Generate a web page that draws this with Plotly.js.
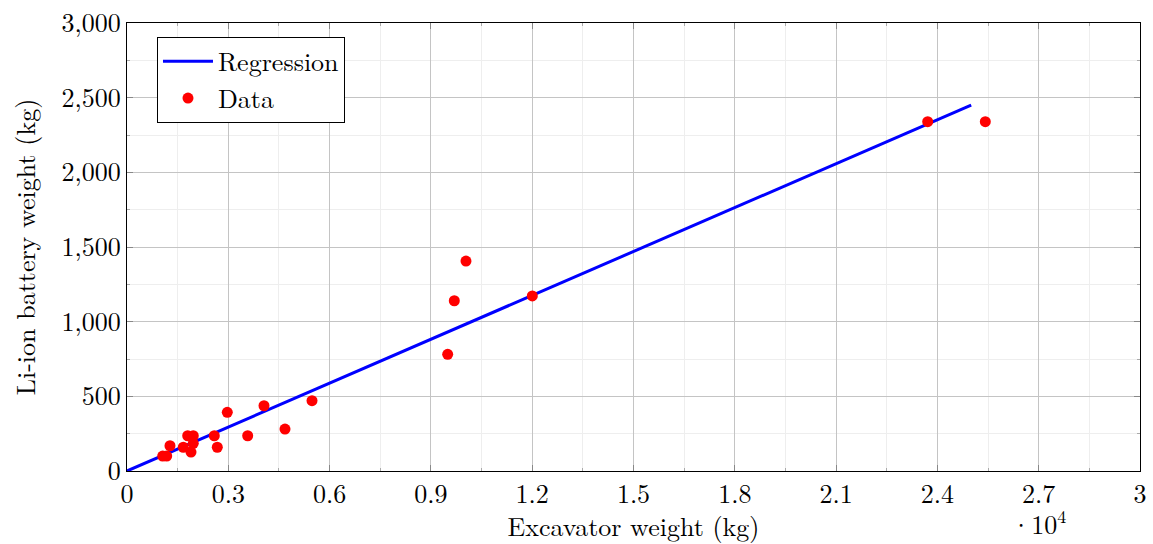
<!DOCTYPE html>
<html>
<head>
<meta charset="utf-8">
<script src="https://cdn.plot.ly/plotly-3.0.1.min.js"></script>
<style>html,body{margin:0;padding:0;background:#fff;}#chart{width:1153px;height:544px;}</style>
</head>
<body>
<div id="chart"></div>
<script>
// Data (kg)
const excavatorWeight = [1057, 1176, 1273, 1667, 1798, 1963, 1963, 1895, 2585, 2674, 2970, 3574, 4057, 4679, 5479, 9497, 9693, 10039, 12003, 23712, 25419];
const batteryWeight   = [100, 100, 169, 159, 236, 236, 185, 127, 236, 159, 393, 236, 437, 281, 471, 781, 1140, 1406, 1172, 2339, 2339];
const regressionX = [0, 25000];
const regressionY = [0, 2450];
const xTickVals = [0, 3000, 6000, 9000, 12000, 15000, 18000, 21000, 24000, 27000, 30000];
const xTickText = ["0", "0.3", "0.6", "0.9", "1.2", "1.5", "1.8", "2.1", "2.4", "2.7", "3"];
const yTickVals = [0, 500, 1000, 1500, 2000, 2500, 3000];

const font = "Latin Modern Roman, CMU Serif, Liberation Serif, DejaVu Serif, serif";
const fs = 26;

const traces = [
  {x: regressionX, y: regressionY, type: "scatter", mode: "lines", name: "Regression",
   line: {color: "#0000ff", width: 3}},
  {x: excavatorWeight, y: batteryWeight, type: "scatter", mode: "markers", name: "Data",
   marker: {color: "#ff0000", size: 11}}
];

const axisCommon = {
  showline: true, linecolor: "#000", linewidth: 1, mirror: "allticks",
  ticks: "inside", ticklen: 6, tickcolor: "#888", tickwidth: 1,
  showgrid: true, gridcolor: "#c4c4c4", gridwidth: 1, zeroline: false,
  tickfont: {family: font, size: fs, color: "#000"},
  layer: "below traces"
};

const layout = {
  width: 1153, height: 544,
  margin: {l: 127, r: 13, t: 23, b: 73},
  paper_bgcolor: "#fff", plot_bgcolor: "#fff",
  font: {family: font, color: "#000"},
  showlegend: true,
  legend: {x: 0.0296, y: 0.969, xanchor: "left", yanchor: "top",
           bordercolor: "#000", borderwidth: 1, bgcolor: "#fff", itemwidth: 50,
           font: {family: font, size: fs, color: "#000"}},
  xaxis: Object.assign({}, axisCommon, {
    range: [0, 30000], tickmode: "array", tickvals: xTickVals, ticktext: xTickText,
    minor: {dtick: 1500, tick0: 0, showgrid: true, gridcolor: "#eeeeee", ticks: "inside", ticklen: 3, tickcolor: "#aaa"},
    title: {text: "Excavator weight (kg)", font: {family: font, size: fs}, standoff: 8}
  }),
  yaxis: Object.assign({}, axisCommon, {
    range: [0, 3000], tickmode: "array", tickvals: yTickVals, tickformat: ",",
    minor: {dtick: 250, tick0: 0, showgrid: true, gridcolor: "#eeeeee", ticks: "inside", ticklen: 3, tickcolor: "#aaa"},
    title: {text: "Li-ion battery weight (kg)", font: {family: font, size: fs}, standoff: 18}
  }),
  annotations: [{
    xref: "paper", yref: "paper", x: 0.871, y: -0.163, xanchor: "left", yanchor: "bottom",
    text: "·10<sup>4</sup>", showarrow: false, font: {family: font, size: fs, color: "#000"}
  }]
};

Plotly.newPlot("chart", traces, layout, {displayModeBar: false, staticPlot: true});
</script>
</body>
</html>
